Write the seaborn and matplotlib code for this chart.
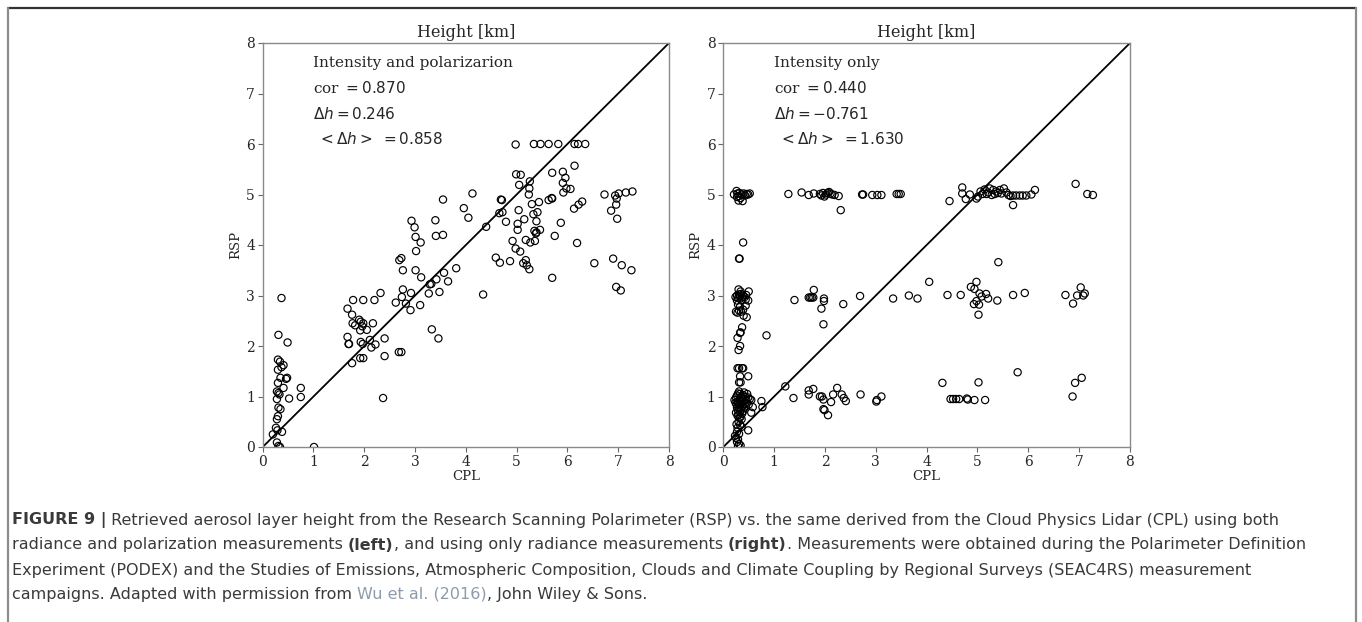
"""
Aerosol layer height: RSP vs CPL scatter, two retrieval modes, with figure caption.
"""

import matplotlib
matplotlib.use("Agg")
import matplotlib.pyplot as plt
import numpy as np
import pandas as pd
import seaborn as sns
from matplotlib.lines import Line2D

# ---- left panel: intensity and polarization (CPL, RSP) in km ----
left_pts = [
    (0.37, 2.95), (0.31, 2.22), (0.49, 2.07), (0.30, 1.73), (0.34, 1.69), (0.41, 1.62),
    (0.30, 1.53), (0.37, 1.58), (0.35, 1.37), (0.46, 1.35), (0.48, 1.37), (0.30, 1.27),
    (0.41, 1.17), (0.28, 1.10), (0.31, 1.07), (0.33, 1.04), (0.28, 0.95), (0.52, 0.96),
    (0.31, 0.78), (0.35, 0.75), (0.30, 0.61), (0.28, 0.55), (0.26, 0.38), (0.29, 0.33),
    (0.38, 0.30), (0.20, 0.25), (0.28, 0.09), (0.31, 0.02), (0.34, 0.00), (1.01, 0.00),
    (0.75, 1.17), (0.75, 0.99),
    (1.67, 2.74), (1.76, 2.62), (1.78, 2.91), (1.98, 2.91), (2.20, 2.91), (2.32, 3.05),
    (1.77, 2.45), (1.82, 2.41), (1.90, 2.52), (1.93, 2.48), (1.96, 2.39), (1.92, 2.31),
    (1.98, 2.45), (2.05, 2.32), (2.17, 2.45), (1.67, 2.18), (1.69, 2.04), (1.70, 2.04),
    (1.93, 2.08), (1.97, 2.04), (2.11, 2.12), (2.14, 1.97), (2.22, 2.03), (2.40, 2.15),
    (1.92, 1.76), (1.98, 1.76), (1.76, 1.66), (2.40, 1.80), (2.37, 0.97),
    (2.62, 2.86), (2.69, 3.70), (2.73, 3.74), (2.76, 3.50), (2.76, 3.12), (2.74, 2.97),
    (2.82, 2.84), (2.91, 2.71), (2.92, 3.05), (2.93, 4.48), (2.99, 4.35), (3.01, 4.16),
    (3.02, 3.88), (3.11, 4.05), (3.01, 3.50), (3.12, 3.36), (3.10, 2.81), (2.68, 1.88),
    (2.73, 1.88), (3.27, 3.04), (3.29, 3.22), (3.32, 3.23), (3.42, 3.32), (3.33, 2.33),
    (3.46, 2.15), (3.48, 3.07), (3.57, 3.45), (3.65, 3.28), (3.40, 4.49), (3.41, 4.18),
    (3.55, 4.20), (3.55, 4.90), (3.81, 3.54), (3.96, 4.73), (4.05, 4.54), (4.13, 5.02),
    (4.34, 3.02), (4.40, 4.36),
    (4.59, 3.75), (4.67, 3.65), (4.66, 4.63), (4.72, 4.65), (4.69, 4.90), (4.71, 4.89),
    (4.79, 4.46), (4.87, 3.68), (4.92, 4.08), (4.98, 3.93), (5.07, 3.87), (5.02, 4.30),
    (5.02, 4.42), (5.04, 4.69), (5.05, 5.19), (4.99, 5.40), (5.08, 5.39), (4.98, 5.99),
    (5.15, 4.51), (5.18, 4.10), (5.13, 3.64), (5.18, 3.70), (5.20, 3.60), (5.25, 3.52),
    (5.27, 4.05), (5.24, 5.00), (5.25, 5.12), (5.26, 5.26), (5.30, 4.81), (5.33, 4.61),
    (5.35, 4.28), (5.38, 4.23), (5.39, 4.25), (5.46, 4.30), (5.36, 4.08), (5.39, 4.47),
    (5.41, 4.65), (5.44, 4.85), (5.34, 6.00), (5.47, 6.00), (5.63, 6.00), (5.82, 6.00),
    (5.70, 3.35), (5.75, 4.18), (5.63, 4.89), (5.69, 4.93), (5.70, 4.92), (5.70, 5.43),
    (5.87, 4.44), (5.91, 5.45), (5.91, 5.23), (5.96, 5.33), (5.92, 5.04), (5.98, 5.12),
    (6.06, 5.11), (6.14, 5.57), (6.14, 6.00), (6.21, 6.00), (6.35, 6.00), (6.13, 4.72),
    (6.22, 4.80), (6.29, 4.86), (6.19, 4.04), (6.53, 3.64), (6.73, 5.00), (6.86, 4.68),
    (6.90, 3.73), (6.94, 4.98), (6.97, 4.92), (7.01, 5.02), (6.96, 4.80), (6.98, 4.52),
    (7.15, 5.04), (7.28, 5.06), (7.07, 3.60), (7.26, 3.50), (6.96, 3.17), (7.05, 3.10),
]

# ---- right panel: intensity only ----
right_pts = [
    # ~5 km row
    (0.21, 5.00), (0.26, 5.07), (0.28, 5.02), (0.30, 4.97), (0.32, 5.03), (0.34, 4.93),
    (0.36, 5.00), (0.38, 4.87), (0.40, 5.02), (0.43, 4.98), (0.46, 5.01), (0.49, 5.00),
    (0.52, 5.02), (0.30, 4.88), (0.27, 4.95),
    (1.28, 5.01), (1.54, 5.04), (1.68, 4.99), (1.78, 5.02), (1.90, 5.01), (1.93, 4.98),
    (1.96, 5.03), (1.99, 4.96), (2.02, 5.00), (2.05, 5.03), (2.08, 5.05), (2.11, 5.02),
    (2.14, 5.00), (2.19, 4.99), (2.27, 4.97), (2.31, 4.69), (2.73, 5.00), (2.75, 5.00),
    (2.93, 4.99), (3.03, 4.99), (3.11, 4.99), (3.41, 5.01), (3.45, 5.01), (3.49, 5.01),
    (4.45, 4.87), (4.70, 5.14), (4.70, 5.02), (4.77, 4.91), (4.85, 5.00), (4.98, 4.92),
    (5.01, 4.96), (5.06, 5.06), (5.10, 5.01), (5.14, 5.10), (5.18, 5.01), (5.21, 5.04),
    (5.24, 5.12), (5.28, 4.99), (5.31, 5.09), (5.34, 5.01), (5.37, 5.06), (5.40, 5.03),
    (5.44, 5.09), (5.47, 5.02), (5.52, 5.12), (5.57, 5.04), (5.61, 4.99), (5.65, 4.97),
    (5.70, 4.98), (5.76, 4.98), (5.83, 4.98), (5.89, 4.98), (5.96, 4.98), (6.06, 5.00),
    (6.13, 5.09), (5.70, 4.79), (6.93, 5.21), (7.16, 5.01), (7.27, 4.99),
    # ~3 km row
    (0.24, 2.97), (0.27, 3.00), (0.29, 2.95), (0.31, 3.02), (0.33, 2.98), (0.35, 3.03),
    (0.37, 2.96), (0.39, 3.00), (0.42, 2.97), (0.45, 3.01), (0.50, 3.08), (0.30, 3.12),
    (0.34, 3.08), (0.27, 2.90), (0.36, 2.90), (0.44, 2.92), (0.49, 2.90), (0.25, 2.68),
    (0.28, 2.66), (0.31, 2.70), (0.35, 2.68), (0.39, 2.72), (0.44, 2.80), (0.40, 2.60),
    (0.46, 2.57), (0.33, 2.78), (0.29, 2.82),
    (0.31, 3.73), (0.32, 3.73), (0.39, 4.05), (0.37, 2.37), (0.33, 2.26), (0.34, 2.27),
    (0.33, 2.00), (0.30, 1.92), (0.28, 2.16), (0.85, 2.21),
    (1.40, 2.91), (1.68, 2.96), (1.71, 2.96), (1.74, 2.96), (1.77, 2.96), (1.78, 3.11),
    (1.98, 2.94), (1.98, 2.89), (1.93, 2.74), (1.97, 2.43), (2.36, 2.83), (2.69, 2.99),
    (3.34, 2.94), (3.65, 3.00), (3.82, 2.94), (4.05, 3.27), (4.41, 3.01), (4.67, 3.01),
    (4.87, 3.17), (4.94, 3.13), (4.98, 3.27), (5.04, 3.04), (5.08, 2.98), (4.93, 2.83),
    (4.98, 2.89), (5.03, 2.82), (5.02, 2.62), (5.17, 3.03), (5.21, 2.94), (5.39, 2.90),
    (5.41, 3.66), (5.70, 3.01), (5.93, 3.05), (6.73, 3.01), (6.88, 2.84), (6.96, 3.00),
    (7.03, 3.16), (7.08, 3.00), (7.11, 3.04),
    # low cluster near CPL ~0.3
    (0.28, 1.56), (0.31, 1.56), (0.37, 1.56), (0.39, 1.56), (0.33, 1.40), (0.34, 1.28),
    (0.31, 1.28), (0.49, 1.40),
    (0.22, 0.93), (0.25, 0.98), (0.27, 1.02), (0.29, 1.06), (0.31, 1.10), (0.33, 1.05),
    (0.35, 1.00), (0.37, 0.96), (0.39, 1.03), (0.41, 1.08), (0.43, 0.99), (0.45, 0.94),
    (0.47, 1.05), (0.49, 0.98), (0.52, 0.95), (0.55, 0.93), (0.24, 0.88), (0.26, 0.84),
    (0.28, 0.90), (0.30, 0.86), (0.32, 0.92), (0.34, 0.85), (0.36, 0.89), (0.38, 0.82),
    (0.40, 0.90), (0.42, 0.86), (0.44, 0.80), (0.46, 0.87), (0.50, 0.84), (0.27, 0.78),
    (0.29, 0.72), (0.31, 0.76), (0.33, 0.70), (0.35, 0.74), (0.37, 0.66), (0.39, 0.71),
    (0.41, 0.77), (0.30, 0.64), (0.34, 0.60), (0.25, 0.68), (0.28, 0.62), (0.32, 0.58),
    (0.36, 0.55), (0.30, 0.50), (0.26, 0.45), (0.33, 0.44), (0.28, 0.38), (0.36, 0.40),
    (0.27, 0.30), (0.31, 0.26), (0.25, 0.18), (0.29, 0.15), (0.27, 0.10), (0.31, 0.06),
    (0.29, 0.02), (0.34, 0.03), (0.23, 0.22), (0.58, 0.79), (0.55, 0.68), (0.49, 0.33),
    (0.75, 0.91), (0.77, 0.79),
    # ~1 km row
    (1.22, 1.20), (1.38, 0.97), (1.68, 1.12), (1.68, 1.04), (1.77, 1.15), (1.90, 1.00),
    (1.94, 1.00), (1.97, 0.94), (1.97, 0.75), (1.99, 0.73), (2.06, 0.63), (2.12, 0.89),
    (2.16, 1.04), (2.24, 1.17), (2.33, 1.04), (2.37, 0.97), (2.41, 0.91), (2.70, 1.04),
    (3.01, 0.90), (3.02, 0.93), (3.11, 1.00), (4.31, 1.27), (4.47, 0.95), (4.52, 0.95),
    (4.58, 0.95), (4.64, 0.95), (4.79, 0.96), (4.81, 0.94), (4.94, 0.93), (5.02, 1.28),
    (5.15, 0.93), (5.79, 1.48), (6.87, 1.00), (6.92, 1.27), (7.05, 1.37),
]

panel_labels = ["Intensity and polarizarion", "Intensity only"]
panel_stats = [
    ["cor $=0.870$", r"$\Delta h=0.246$", r" $<\Delta h>$ $=0.858$"],
    ["cor $=0.440$", r"$\Delta h=-0.761$", r" $<\Delta h>$ $=1.630$"],
]

caption_lines = [
    [("FIGURE 9 |", "bold", None),
     (" Retrieved aerosol layer height from the Research Scanning Polarimeter (RSP) vs. the same "
      "derived from the Cloud Physics Lidar (CPL) using both", "normal", None)],
    [("radiance and polarization measurements ", "normal", None), ("(left)", "bold", None),
     (", and using only radiance measurements ", "normal", None), ("(right)", "bold", None),
     (". Measurements were obtained during the Polarimeter Definition", "normal", None)],
    [("Experiment (PODEX) and the Studies of Emissions, Atmospheric Composition, Clouds and Climate "
      "Coupling by Regional Surveys (SEAC4RS) measurement", "normal", None)],
    [("campaigns. Adapted with permission from ", "normal", None),
     ("Wu et al. (2016)", "normal", "#8d9bab"), (", John Wiley & Sons.", "normal", None)],
]

sns.set_style("ticks")
plt.rcParams["font.family"] = ["DejaVu Serif"]
plt.rcParams["mathtext.fontset"] = "dejavusans"

W, H = 1362, 622
fig = plt.figure(figsize=(W / 100, H / 100), dpi=100)

axes_px = [(262.7, 43, 669, 447), (723.3, 43, 1130, 447)]
for i, pts in enumerate([left_pts, right_pts]):
    x0, y0, x1, y1 = axes_px[i]
    ax = fig.add_axes([x0 / W, 1 - y1 / H, (x1 - x0) / W, (y1 - y0) / H])
    df = pd.DataFrame(pts, columns=["CPL", "RSP"])
    sns.scatterplot(data=df, x="CPL", y="RSP", ax=ax, marker="o", s=27,
                    facecolor="none", edgecolor="black", linewidth=0.85, zorder=3)
    ax.plot([0, 8], [0, 8], color="black", linewidth=1.3, zorder=2)
    ax.set_xlim(0, 8)
    ax.set_ylim(0, 8)
    ax.set_xticks(range(9))
    ax.set_yticks(range(9))
    ax.tick_params(labelsize=10, length=3.5, width=0.8, color="#666666", pad=2)
    for sp in ax.spines.values():
        sp.set_visible(True)
        sp.set_color("#8a8a8a")
        sp.set_linewidth(1.0)
    ax.set_title("Height [km]", fontsize=11.5, pad=4)
    ax.set_xlabel("CPL", fontsize=9.5, labelpad=1)
    ax.set_ylabel("RSP", fontsize=9.5, labelpad=3)
    ax.text(1.0, 7.6, panel_labels[i], fontsize=11, va="center")
    for k, s in enumerate(panel_stats[i]):
        ax.text(1.0, 7.1 - 0.5 * k, s, fontsize=11, va="center")

# frame around figure + caption (open at the bottom)
fig.add_artist(Line2D([8 / W, 1356 / W], [1 - 8 / H, 1 - 8 / H], transform=fig.transFigure,
                      color="#333333", linewidth=1.6))
for xp in (8, 1356):
    fig.add_artist(Line2D([xp / W, xp / W], [0, 1 - 8 / H], transform=fig.transFigure,
                          color="#8c8c8c", linewidth=1.6))

# caption, drawn run by run so bold / coloured pieces sit inline
fig.canvas.draw()
renderer = fig.canvas.get_renderer()
cap_family = ["Liberation Sans Narrow", "DejaVu Sans"]
cap_size = 11.5
line_y = [520, 545, 570, 594]
for runs, yp in zip(caption_lines, line_y):
    xp = 12.0
    for txt, weight, color in runs:
        t = fig.text(xp / W, 1 - yp / H, txt, fontsize=cap_size, fontweight=weight,
                     family=cap_family, color=color or "#3a3a3a", va="center", ha="left")
        bb = t.get_window_extent(renderer=renderer)
        xp += bb.width

fig.savefig("out.png", dpi=100)
